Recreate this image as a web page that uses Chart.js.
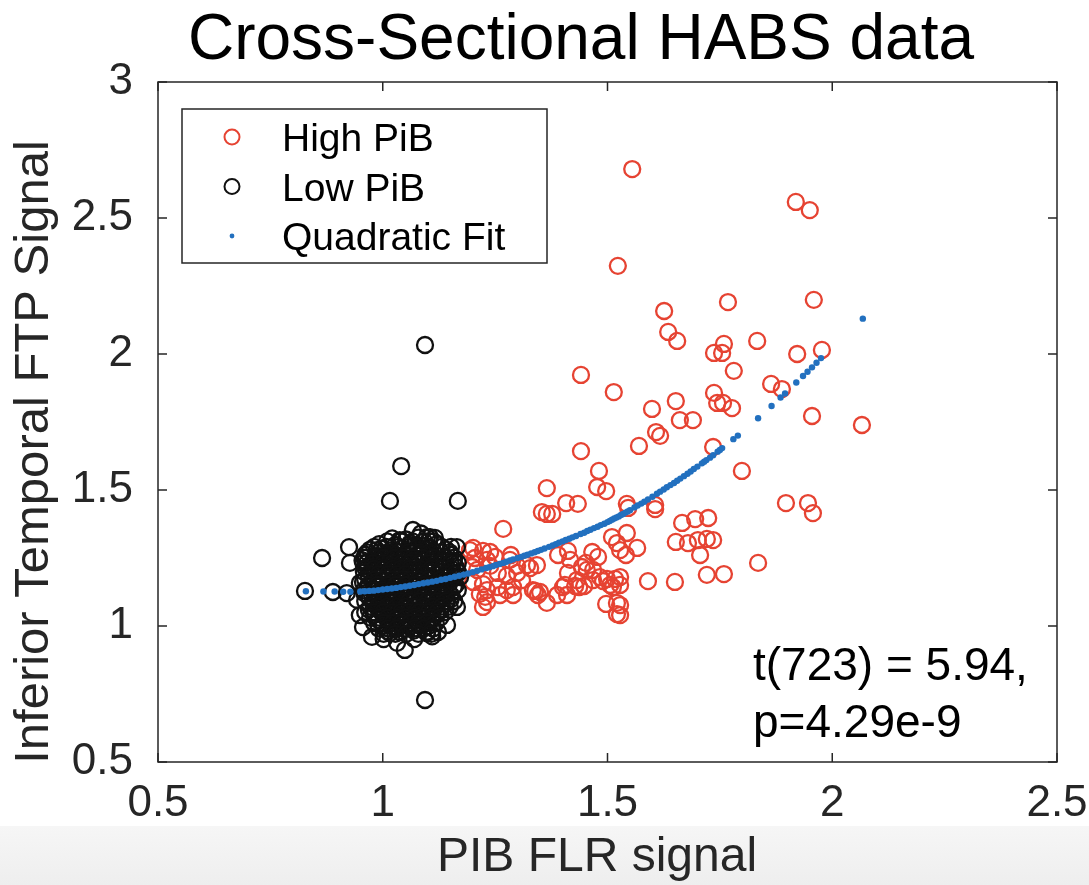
<!DOCTYPE html>
<html>
<head>
<meta charset="utf-8">
<title>Cross-Sectional HABS data</title>
<script src="https://cdn.jsdelivr.net/npm/chart.js@4.4.1/dist/chart.umd.min.js"></script>
<style>
  html, body { margin: 0; padding: 0; background: #fff; }
  #wrap { width: 1089px; height: 885px; }
</style>
</head>
<body>
<div id="wrap"><canvas id="habs" width="1089" height="885"></canvas></div>
<script>
// PIB FLR signal (x) vs inferior temporal FTP signal (y)
const highPib = [
  [1.555,2.680],[1.919,2.559],[1.950,2.529],[1.523,2.324],[1.768,2.191],[1.959,2.199],
  [1.626,2.158],[1.635,2.081],[1.655,2.048],[1.833,2.048],[1.922,2.000],[1.977,2.015],
  [1.737,2.004],[1.759,2.037],[1.755,2.004],[1.781,1.938],[1.441,1.923],[1.514,1.860],
  [1.864,1.890],[1.888,1.871],[1.599,1.798],[1.652,1.827],[1.737,1.857],[1.744,1.820],
  [1.757,1.820],[1.777,1.801],[1.955,1.772],[2.066,1.739],[1.661,1.757],[1.690,1.757],
  [1.608,1.713],[1.617,1.699],[1.570,1.662],[1.441,1.643],[1.735,1.658],[1.481,1.570],
  [1.799,1.570],
  [1.365,1.507],[1.477,1.511],[1.497,1.496],[1.897,1.452],[1.946,1.452],[1.957,1.415],
  [1.543,1.449],[1.546,1.434],[1.606,1.445],[1.606,1.430],[1.354,1.419],[1.365,1.412],
  [1.377,1.412],[1.408,1.452],[1.434,1.449],[1.268,1.357],[1.666,1.379],[1.695,1.393],
  [1.724,1.397],[1.543,1.342],[1.652,1.309],[1.679,1.305],[1.701,1.316],[1.721,1.320],
  [1.735,1.316],[1.566,1.287],[1.541,1.261],[1.706,1.261],[1.835,1.232],[1.721,1.188],
  [1.759,1.191],[1.590,1.165],[1.650,1.162],
  [1.510,1.327],[1.521,1.305],[1.528,1.279],[1.466,1.272],[1.479,1.254],[1.452,1.232],
  [1.412,1.276],[1.390,1.261],[1.443,1.217],[1.468,1.206],[1.468,1.169],[1.412,1.195],
  [1.405,1.151],[1.437,1.143],[1.483,1.180],[1.499,1.173],[1.517,1.173],[1.528,1.151],
  [1.506,1.151],[1.490,1.165],[1.497,1.081],[1.521,1.085],[1.521,1.044],[1.448,1.147],
  [1.428,1.147],[1.339,1.129],[1.350,1.125],[1.365,1.085],[1.283,1.243],[1.299,1.221],
  [1.343,1.224],[1.328,1.213],[1.201,1.287],[1.223,1.276],[1.239,1.272],[1.250,1.254],
  [1.285,1.261],[1.232,1.243],[1.239,1.221],[1.210,1.206],[1.256,1.195],[1.276,1.184],
  [1.299,1.195],[1.321,1.224],[1.201,1.162],[1.223,1.154],[1.232,1.132],[1.256,1.143],
  [1.276,1.132],[1.290,1.143],[1.310,1.169],[1.216,1.118],[1.232,1.088],[1.261,1.114],
  [1.290,1.114],[1.334,1.132],[1.345,1.114],[1.401,1.143],[1.410,1.114],[1.388,1.114],
  [1.432,1.169],[1.417,1.243],[1.454,1.206],[1.512,1.143],
  [1.194,1.279],[1.205,1.250],[1.199,1.217],[1.228,1.107],[1.223,1.070],
  [1.528,1.180],[1.528,1.077],[1.528,1.040]
];

const lowPib = [
  // stragglers
  [1.094,2.033],[1.041,1.588],[1.016,1.460],[1.167,1.460],[1.094,0.728],
  [0.827,1.129],[0.865,1.250],[0.925,1.290],[0.927,1.232],[0.889,1.125],[0.920,1.121],
  // edge of the main cluster
  [0.949,1.040],[0.956,0.996],[0.976,0.960],[1.016,0.974],[1.032,0.938],[1.049,0.912],
  [1.098,0.974],[1.123,0.978],[1.143,1.004],[1.165,1.070],[1.167,1.132],[1.172,1.180],
  [1.167,1.232],[1.165,1.290],[1.105,1.327],[1.067,1.353],[1.038,1.316],[0.987,1.279],
  [0.965,1.232],[0.949,1.158],[0.943,1.096],[1.085,1.340],[1.116,1.324],[1.098,1.327],
  [1.070,0.952],[1.110,0.962],[1.002,0.952],
  // core
  [1.021,1.322],[1.052,1.318],[1.079,1.325],[1.103,1.312],
  [0.992,1.301],[1.028,1.298],[1.061,1.304],[1.088,1.296],[1.121,1.302],
  [0.972,1.281],[0.998,1.284],[1.018,1.278],[1.043,1.286],[1.069,1.279],[1.092,1.283],[1.112,1.276],[1.141,1.281],
  [0.961,1.262],[0.987,1.258],[1.008,1.264],[1.031,1.257],[1.052,1.263],[1.078,1.259],[1.101,1.265],[1.123,1.257],[1.151,1.262],
  [0.955,1.241],[0.979,1.238],[0.999,1.244],[1.021,1.239],[1.041,1.243],[1.062,1.236],[1.083,1.242],[1.108,1.238],[1.131,1.244],[1.158,1.239],
  [0.968,1.221],[0.991,1.218],[1.012,1.224],[1.033,1.219],[1.049,1.223],[1.072,1.217],[1.093,1.222],[1.118,1.219],[1.141,1.224],[1.162,1.218],
  [0.958,1.199],[0.982,1.203],[1.003,1.197],[1.022,1.202],[1.042,1.198],[1.061,1.204],[1.081,1.199],[1.101,1.203],[1.129,1.197],[1.149,1.202],[1.168,1.196],
  [0.969,1.181],[0.992,1.178],[1.011,1.183],[1.031,1.177],[1.052,1.182],[1.071,1.179],[1.091,1.184],[1.112,1.177],[1.138,1.182],[1.158,1.178],
  [0.956,1.162],[0.979,1.158],[1.001,1.163],[1.019,1.157],[1.039,1.162],[1.062,1.156],[1.082,1.161],[1.099,1.157],[1.121,1.163],[1.148,1.158],
  [0.968,1.141],[0.988,1.144],[1.009,1.138],[1.031,1.143],[1.051,1.139],[1.069,1.144],[1.089,1.138],[1.111,1.142],[1.132,1.137],[1.158,1.143],
  [0.959,1.121],[0.981,1.118],[0.998,1.123],[1.022,1.117],[1.041,1.122],[1.058,1.118],[1.082,1.123],[1.101,1.117],[1.122,1.121],[1.142,1.118],
  [0.971,1.101],[0.991,1.098],[1.012,1.103],[1.029,1.097],[1.049,1.102],[1.071,1.098],[1.092,1.103],[1.109,1.097],[1.131,1.102],[1.151,1.098],
  [0.979,1.081],[1.001,1.078],[1.019,1.083],[1.041,1.077],[1.061,1.082],[1.079,1.078],[1.102,1.083],[1.121,1.077],[1.141,1.082],
  [0.969,1.061],[0.992,1.058],[1.011,1.063],[1.032,1.057],[1.052,1.062],[1.068,1.058],[1.091,1.063],[1.112,1.057],[1.129,1.061],
  [0.982,1.041],[1.002,1.038],[1.021,1.043],[1.042,1.037],[1.061,1.042],[1.081,1.038],[1.098,1.043],[1.119,1.039],
  [0.991,1.021],[1.012,1.018],[1.031,1.023],[1.052,1.017],[1.072,1.022],[1.089,1.018],[1.108,1.021],
  [1.001,1.001],[1.022,0.998],[1.041,1.003],[1.059,0.997],[1.081,1.002],[1.101,0.999],
  [1.011,0.981],[1.038,0.978],[1.069,0.983],[1.099,0.979],
  // core, in between the rows above
  [1.010,1.311],[1.040,1.311],[1.066,1.311],[1.092,1.311],[1.113,1.311],
  [0.981,1.291],[1.008,1.291],[1.035,1.291],[1.058,1.291],[1.079,1.291],[1.102,1.291],[1.131,1.291],[1.152,1.291],
  [0.966,1.271],[0.991,1.271],[1.013,1.271],[1.036,1.271],[1.058,1.271],[1.082,1.271],[1.104,1.271],[1.129,1.271],[1.149,1.271],
  [0.961,1.251],[0.982,1.251],[1.003,1.251],[1.026,1.251],[1.046,1.251],[1.068,1.251],[1.089,1.251],[1.112,1.251],[1.138,1.251],[1.159,1.251],
  [0.957,1.231],[0.978,1.231],[1.001,1.231],[1.022,1.231],[1.043,1.231],[1.061,1.231],[1.081,1.231],[1.101,1.231],[1.128,1.231],[1.151,1.231],
  [0.962,1.211],[0.981,1.211],[1.002,1.211],[1.023,1.211],[1.041,1.211],[1.061,1.211],[1.082,1.211],[1.108,1.211],[1.131,1.211],[1.152,1.211],
  [0.968,1.191],[0.991,1.191],[1.012,1.191],[1.032,1.191],[1.051,1.191],[1.072,1.191],[1.092,1.191],[1.119,1.191],[1.139,1.191],[1.161,1.191],
  [0.961,1.171],[0.982,1.171],[1.001,1.171],[1.022,1.171],[1.042,1.171],[1.061,1.171],[1.081,1.171],[1.102,1.171],[1.128,1.171],[1.151,1.171],
  [0.968,1.151],[0.989,1.151],[1.011,1.151],[1.029,1.151],[1.051,1.151],[1.072,1.151],[1.091,1.151],[1.109,1.151],[1.136,1.151],[1.162,1.151],
  [0.958,1.131],[0.979,1.131],[0.999,1.131],[1.019,1.131],[1.041,1.131],[1.061,1.131],[1.079,1.131],[1.101,1.131],[1.122,1.131],[1.146,1.131],
  [0.969,1.111],[0.989,1.111],[1.011,1.111],[1.032,1.111],[1.049,1.111],[1.071,1.111],[1.092,1.111],[1.111,1.111],[1.132,1.111],[1.153,1.111],
  [0.961,1.091],[0.981,1.091],[1.002,1.091],[1.021,1.091],[1.039,1.091],[1.059,1.091],[1.081,1.091],[1.099,1.091],[1.121,1.091],[1.141,1.091],[1.159,1.091],
  [0.972,1.071],[0.989,1.071],[1.009,1.071],[1.031,1.071],[1.051,1.071],[1.071,1.071],[1.089,1.071],[1.111,1.071],[1.131,1.071],[1.149,1.071],
  [0.961,1.051],[0.979,1.051],[1.001,1.051],[1.022,1.051],[1.041,1.051],[1.059,1.051],[1.081,1.051],[1.102,1.051],[1.121,1.051],[1.139,1.051],
  [0.972,1.031],[0.991,1.031],[1.011,1.031],[1.032,1.031],[1.051,1.031],[1.071,1.031],[1.089,1.031],[1.109,1.031],[1.128,1.031],
  [0.981,1.011],[1.001,1.011],[1.022,1.011],[1.041,1.011],[1.062,1.011],[1.079,1.011],[1.098,1.011],[1.118,1.011],
  [0.991,0.991],[1.012,0.991],[1.031,0.991],[1.049,0.991],[1.071,0.991],[1.091,0.991],[1.112,0.991],
  [1.002,0.971],[1.028,0.971],[1.052,0.971],[1.079,0.971],[1.108,0.971]
];

// fitted values, one dot per subject x
const quadFit = [
  [0.829,1.128],[0.868,1.127],[0.893,1.127],[0.912,1.126],[0.928,1.126],
  [0.950,1.127],[0.960,1.128],[0.970,1.129],[0.980,1.130],[0.990,1.132],[1.000,1.134],
  [1.010,1.136],[1.020,1.138],[1.030,1.140],[1.040,1.143],[1.050,1.145],[1.060,1.148],
  [1.070,1.151],[1.080,1.154],[1.090,1.157],[1.100,1.160],[1.110,1.163],[1.120,1.166],
  [1.130,1.170],[1.140,1.173],[1.150,1.177],[1.160,1.181],[1.170,1.185],[1.180,1.189],
  [1.190,1.193],[1.200,1.198],[1.210,1.203],[1.220,1.208],
  [1.230,1.213],[1.237,1.216],[1.245,1.220],[1.252,1.224],[1.260,1.228],[1.268,1.232],
  [1.275,1.236],[1.283,1.241],[1.290,1.245],[1.300,1.250],[1.308,1.254],[1.315,1.258],
  [1.322,1.262],[1.330,1.267],[1.338,1.271],[1.345,1.276],[1.352,1.280],[1.360,1.285],
  [1.370,1.291],[1.378,1.296],[1.385,1.301],[1.392,1.306],[1.400,1.311],[1.407,1.316],
  [1.415,1.321],[1.422,1.326],[1.430,1.331],[1.440,1.338],[1.448,1.343],[1.455,1.349],
  [1.462,1.354],[1.470,1.360],[1.478,1.365],[1.485,1.371],[1.493,1.376],[1.500,1.382],
  [1.505,1.386],[1.510,1.391],[1.515,1.395],[1.520,1.399],[1.525,1.403],[1.530,1.408],
  [1.535,1.412],[1.540,1.417],[1.545,1.421],[1.550,1.426],[1.560,1.436],[1.567,1.443],
  [1.575,1.450],[1.582,1.457],[1.590,1.465],[1.600,1.475],[1.610,1.486],[1.617,1.494],
  [1.625,1.502],[1.632,1.510],[1.640,1.518],[1.648,1.526],[1.655,1.534],[1.662,1.542],
  [1.670,1.551],[1.678,1.560],[1.685,1.568],[1.692,1.577],[1.700,1.586],[1.710,1.598],
  [1.715,1.604],[1.720,1.610],[1.728,1.619],[1.735,1.628],[1.745,1.641],[1.750,1.647],
  [1.755,1.654],[1.780,1.687],[1.790,1.700],
  [1.835,1.764],[1.865,1.809],[1.885,1.840],[1.895,1.855],[1.920,1.895],[1.935,1.919],
  [1.945,1.935],[1.955,1.951],[1.965,1.968],[1.975,1.985],[2.068,2.130]
];

const xTicks = [0.5, 1, 1.5, 2, 2.5];
const xTickLabels = ['0.5', '1', '1.5', '2', '2.5'];
const yTicks = [0.5, 1, 1.5, 2, 2.5, 3];
const yTickLabels = ['0.5', '1', '1.5', '2', '2.5', '3'];

const titleText = 'Cross-Sectional HABS data';
const xTitle = 'PIB FLR signal';
const yTitle = 'Inferior Temporal FTP Signal';
const statLines = ['t(723) = 5.94,', 'p=4.29e-9'];

const FONT = '"Liberation Sans", Arial, Helvetica, sans-serif';
const AXIS = '#262626';
const RED = '#e64332';
const BLACK = '#111111';
const BLUE = '#2270bf';

const toXY = pts => pts.map(([x, y]) => ({ x, y }));

// background strip, box with inward ticks, legend, titles and stats text
const decor = {
  id: 'decor',
  beforeDraw(chart) {
    const { ctx, width, height } = chart;
    ctx.save();
    ctx.fillStyle = '#fff';
    ctx.fillRect(0, 0, width, height);
    const g = ctx.createLinearGradient(0, 826, 0, height);
    g.addColorStop(0, '#f6f6f6');
    g.addColorStop(1, '#eeeeee');
    ctx.fillStyle = g;
    ctx.fillRect(0, 826, width, height - 826);
    ctx.restore();
  },
  afterDraw(chart) {
    const { ctx, chartArea: a, scales: { x, y } } = chart;
    ctx.save();

    // axes box + ticks pointing in
    ctx.strokeStyle = AXIS;
    ctx.lineWidth = 1.5;
    ctx.strokeRect(a.left, a.top, a.right - a.left, a.bottom - a.top);
    ctx.beginPath();
    xTicks.forEach(v => {
      const px = x.getPixelForValue(v);
      ctx.moveTo(px, a.bottom); ctx.lineTo(px, a.bottom - 9);
      ctx.moveTo(px, a.top); ctx.lineTo(px, a.top + 9);
    });
    yTicks.forEach(v => {
      const py = y.getPixelForValue(v);
      ctx.moveTo(a.left, py); ctx.lineTo(a.left + 9, py);
      ctx.moveTo(a.right, py); ctx.lineTo(a.right - 9, py);
    });
    ctx.stroke();

    // title
    ctx.fillStyle = '#000';
    ctx.font = '64px ' + FONT;
    ctx.textAlign = 'center';
    ctx.textBaseline = 'alphabetic';
    ctx.fillText(titleText, 581, 59);

    // axis titles
    ctx.fillStyle = AXIS;
    ctx.font = '48px ' + FONT;
    ctx.textBaseline = 'middle';
    ctx.fillText(xTitle, 597, 858);
    ctx.save();
    ctx.translate(34, 452);
    ctx.rotate(-Math.PI / 2);
    ctx.font = '49px ' + FONT;
    ctx.fillText(yTitle, 0, 0);
    ctx.restore();

    // legend
    const lx = a.left + 24, ly = a.top + 27, lw = 365, lh = 154;
    ctx.fillStyle = '#fff';
    ctx.fillRect(lx, ly, lw, lh);
    ctx.strokeStyle = AXIS;
    ctx.lineWidth = 1.5;
    ctx.strokeRect(lx, ly, lw, lh);
    ctx.font = '39px ' + FONT;
    ctx.textAlign = 'left';
    ctx.textBaseline = 'alphabetic';
    chart.data.datasets.forEach((ds, i) => {
      const my = ly + 28 + i * 49.5;
      const mx = lx + 50;
      ctx.beginPath();
      if (ds.pointRadius > 4) {
        ctx.arc(mx, my, 7.5, 0, Math.PI * 2);
        ctx.strokeStyle = ds.borderColor;
        ctx.lineWidth = 2;
        ctx.stroke();
      } else {
        ctx.arc(mx, my, 2.4, 0, Math.PI * 2);
        ctx.fillStyle = ds.backgroundColor;
        ctx.fill();
      }
      ctx.fillStyle = '#000';
      ctx.fillText(ds.label, lx + 100, my + 14);
    });

    // test statistic
    ctx.font = '46px ' + FONT;
    ctx.fillText(statLines[0], 753, 680);
    ctx.fillText(statLines[1], 753, 737);
    ctx.restore();
  }
};

new Chart(document.getElementById('habs'), {
  type: 'scatter',
  data: {
    datasets: [
      {
        label: 'High PiB',
        data: toXY(highPib),
        pointStyle: 'circle',
        pointRadius: 8,
        borderWidth: 2.3,
        borderColor: RED,
        backgroundColor: 'rgba(0,0,0,0)',
        order: 2
      },
      {
        label: 'Low PiB',
        data: toXY(lowPib),
        pointStyle: 'circle',
        pointRadius: 8,
        borderWidth: 2.3,
        borderColor: BLACK,
        backgroundColor: 'rgba(0,0,0,0)',
        order: 1
      },
      {
        label: 'Quadratic Fit',
        data: toXY(quadFit),
        pointStyle: 'circle',
        pointRadius: 3.2,
        borderWidth: 0,
        borderColor: BLUE,
        backgroundColor: BLUE,
        order: 0
      }
    ]
  },
  options: {
    responsive: false,
    animation: false,
    devicePixelRatio: 1,
    layout: { padding: { top: 82, right: 32, bottom: 0, left: 0 } },
    plugins: {
      legend: { display: false },
      tooltip: { enabled: false },
      title: { display: false }
    },
    scales: {
      x: {
        type: 'linear',
        min: 0.5,
        max: 2.5,
        afterFit(s) {
          s.height = 123;
          s.paddingLeft = 0;
          s.paddingRight = 32;
        },
        afterBuildTicks(s) { s.ticks = xTicks.map(v => ({ value: v })); },
        grid: { display: false, drawTicks: false },
        border: { display: false },
        ticks: {
          padding: 15,
          color: AXIS,
          maxRotation: 0,
          font: { family: FONT, size: 44 },
          callback: v => xTickLabels[xTicks.indexOf(v)]
        },
        title: { display: false }
      },
      y: {
        type: 'linear',
        min: 0.5,
        max: 3,
        afterFit(s) { s.width = 158; },
        afterBuildTicks(s) { s.ticks = yTicks.map(v => ({ value: v })); },
        grid: { display: false, drawTicks: false },
        border: { display: false },
        ticks: {
          padding: 25,
          color: AXIS,
          font: { family: FONT, size: 44 },
          callback: v => yTickLabels[yTicks.indexOf(v)]
        },
        title: { display: false }
      }
    }
  },
  plugins: [decor]
});
</script>
</body>
</html>
